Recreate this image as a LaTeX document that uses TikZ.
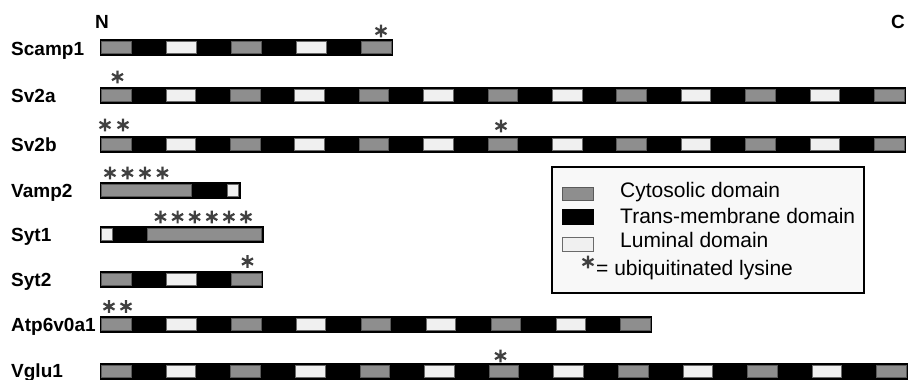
\documentclass[tikz,border=0pt]{standalone}
\usepackage{fontspec}
\setmainfont{Liberation Sans}
\definecolor{cyto}{HTML}{8E8E8E}
\definecolor{cytoedge}{HTML}{5A5A5A}
\definecolor{lumi}{HTML}{F0F0F0}
\definecolor{lumiedge}{HTML}{6A6A6A}
\definecolor{starcol}{HTML}{404040}
\definecolor{legbg}{HTML}{F8F8F8}
\newcommand\repbar[3]{%
  \pgfmathsetmacro\barend{101.5+(#2-1)*#3+31}%
  \draw[barbox] (100,#1) rectangle (\barend,#1+16);
  \pgfmathtruncatemacro\lastk{#2-1}%
  \foreach \k in {0,...,\lastk}{%
    \pgfmathsetmacro\cx{101.5+\k*#3}%
    \ifodd\k
      \draw[lumicell] (\cx,#1+1.8) rectangle (\cx+29.5,#1+14.2);
    \else
      \draw[cytocell] (\cx,#1+1.8) rectangle (\cx+29.5,#1+14.2);
    \fi
  }}
\newcommand\lys[2]{%
  \draw[lysstar] (#1,#2-6.3) -- (#1,#2+6.3) (#1-5.5,#2-3.15) -- (#1+5.5,#2+3.15) (#1-5.5,#2+3.15) -- (#1+5.5,#2-3.15);}
\begin{document}
\begin{tikzpicture}[x=1pt,y=-1pt,
  lab/.style={font=\fontsize{19}{19}\selectfont\bfseries, anchor=base west, inner sep=0},
  legtext/.style={font=\fontsize{21}{21}\selectfont, anchor=base west, inner sep=0},
  barbox/.style={draw=black, fill=black, line width=1pt},
  cytocell/.style={draw=cytoedge, fill=cyto, line width=0.6pt},
  lumicell/.style={draw=lumiedge, fill=lumi, line width=0.6pt},
  lysstar/.style={draw=starcol, line width=2.2pt, line cap=butt}]
\useasboundingbox (0,0) rectangle (908,380);

% termini
\node[lab] (nterm) at (95,28) {N};
\node[lab] (cterm) at (891,28) {C};

% protein names
\node[lab] (scamp) at (11,55) {Scamp1};
\node[lab] (sva) at (11,102) {Sv2a};
\node[lab] (svb) at (11,151) {Sv2b};
\node[lab] (vamp) at (11,197) {Vamp2};
\node[lab] (sytone) at (11,241) {Syt1};
\node[lab] (syttwo) at (11,286) {Syt2};
\node[lab] (atp) at (11,331) {Atp6v0a1};
\node[lab] (vglu) at (11,377) {Vglu1};

% repeating bars
\repbar{39}{5}{65}
\repbar{87}{13}{64.4}
\repbar{136}{13}{64.4}
\repbar{271}{3}{65}
\repbar{316}{9}{64.9}
\repbar{363}{13}{64.6}

% Vamp2
\draw[barbox] (100,182) rectangle (240,198);
\draw[cytocell] (101.5,183.8) rectangle (191,196.2);
\draw[lumicell] (227,183.8) rectangle (238.5,196.2);

% Syt1
\draw[barbox] (100,226) rectangle (263,242);
\draw[lumicell] (101.5,227.8) rectangle (112,240.2);
\draw[cytocell] (147,227.8) rectangle (261.5,240.2);

% ubiquitinated lysines
\lys{381}{31}
\lys{117.5}{77}
\lys{105}{125}\lys{123}{125}\lys{501}{126}
\lys{110}{173}\lys{127.5}{173}\lys{145}{173}\lys{162.5}{173}
\foreach \i in {0,...,5}{\lys{160.5+\i*17.1}{217}}
\lys{247.5}{261.5}
\lys{109}{306.5}\lys{126}{306.5}
\lys{500.5}{356}

% legend
\draw[fill=legbg, draw=black, line width=1.2pt] (552,167) rectangle (864,293);
\draw[cytocell, line width=0.8pt] (562,187) rectangle (593,200);
\draw[fill=black, draw=black] (562,209) rectangle (593,224);
\draw[lumicell, line width=0.8pt] (562,237) rectangle (593,251);
\node[legtext] (lc) at (620,197) {Cytosolic domain};
\node[legtext] (lt) at (620,223) {Trans-membrane domain};
\node[legtext] (ll) at (620,247) {Luminal domain};
\lys{588}{262}
\node[legtext] (lu) at (596,275) {= ubiquitinated lysine};
\end{tikzpicture}
\end{document}
